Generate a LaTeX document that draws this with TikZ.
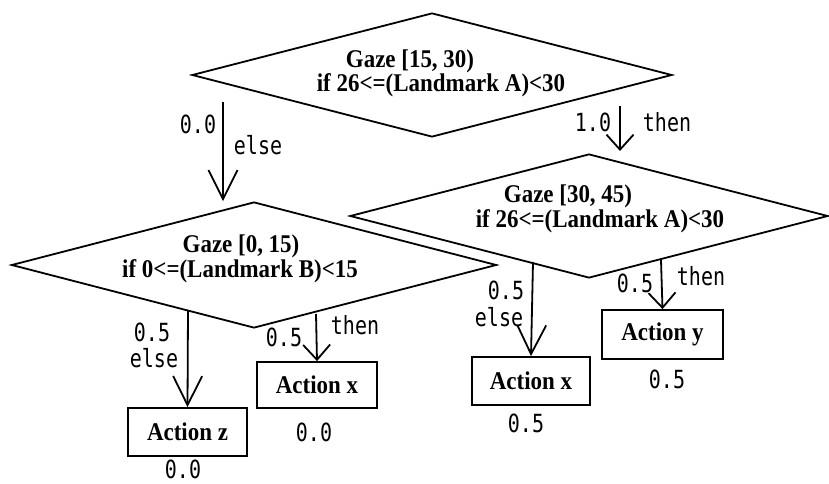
\documentclass[tikz,border=0pt]{standalone}
\usepackage{fontspec}
\setmainfont{Liberation Serif}
\newfontfamily\condserif[FakeStretch=0.9]{Liberation Serif}
\newfontfamily\lblfont[FakeStretch=0.8]{DejaVu Sans Mono}
\usetikzlibrary{shapes.geometric,arrows.meta}
\begin{document}
\begin{tikzpicture}[x=1pt,y=-1pt,
  line width=1.8pt,
  decision/.style={diamond,draw,inner sep=0pt},
  actionbox/.style={rectangle,draw,inner sep=0pt,
    font=\fontsize{25.5}{26}\condserif\bfseries},
  condtext/.style={anchor=base,inner sep=0pt,
    font=\fontsize{25.5}{26}\condserif\bfseries},
  prob/.style={inner sep=0pt,font=\fontsize{25}{26}\lblfont},
  longhead/.style={-{Straight Barb[length=29pt,width=29pt]}},
  shorthead/.style={-{Straight Barb[length=15pt,width=27pt]}}]
\useasboundingbox (0,0) rectangle (829,484);

% decision diamonds
\node[decision,minimum width=480pt,minimum height=124pt] (d1) at (432,75) {};
\node[decision,minimum width=478pt,minimum height=124pt] (d2) at (589,216) {};
\node[decision,minimum width=485pt,minimum height=126pt] (d3) at (254,265) {};

\node[condtext] (d1a) at (410,68) {Gaze [15, 30)};
\node[condtext] (d1b) at (441,92) {if 26<=(Landmark A)<30};
\node[condtext] (d2a) at (568,202) {Gaze [30, 45)};
\node[condtext] (d2b) at (600,227) {if 26<=(Landmark A)<30};
\node[condtext] (d3a) at (241,252) {Gaze [0, 15)};
\node[condtext] (d3b) at (240,277) {if 0<=(Landmark B)<15};

% actions
\node[actionbox,minimum width=119pt,minimum height=48pt] (bz) at (187.5,432) {Action z};
\node[actionbox,minimum width=120pt,minimum height=46pt] (bx1) at (317,385) {Action x};
\node[actionbox,minimum width=118pt,minimum height=48pt] (bx2) at (531,381) {Action x};
\node[actionbox,minimum width=121pt,minimum height=49pt] (by) at (662.5,334.5) {Action y};

% branch arrows
\coordinate (s1) at (223,102);
\coordinate (s2) at (620,106);
\coordinate (s3) at (188,310);
\coordinate (s4) at (316,314);
\coordinate (s5) at (533,262);
\coordinate (s6) at (661,260);
\coordinate (t2) at (620,151);
\draw[longhead] (s1) -- (s1 |- d3.north);
\draw[shorthead] (s2) -- (t2);
\draw[longhead] (s3) -- (bz.north);
\draw[shorthead] (s4) -- (bx1.north);
\draw[longhead] (s5) -- (bx2.north);
\draw[shorthead] (s6) -- (by.north);

% branch labels and values
\node[prob] (p1) at (198,124) {0.0};
\node[prob] (l1) at (258,145) {else};
\node[prob] (p2) at (593,122) {1.0};
\node[prob] (l2) at (667,122) {then};
\node[prob] (p3) at (152,332) {0.5};
\node[prob] (l3) at (154,358) {else};
\node[prob] (p4) at (284,337) {0.5};
\node[prob] (l4) at (355,325) {then};
\node[prob] (p5) at (506,290) {0.5};
\node[prob] (l5) at (499,317) {else};
\node[prob] (p6) at (635,283) {0.5};
\node[prob] (l6) at (701,276) {then};
\node[prob] (v1) at (183,469) {0.0};
\node[prob] (v2) at (314,432) {0.0};
\node[prob] (v3) at (526,423) {0.5};
\node[prob] (v4) at (667,379) {0.5};
\end{tikzpicture}
\end{document}
